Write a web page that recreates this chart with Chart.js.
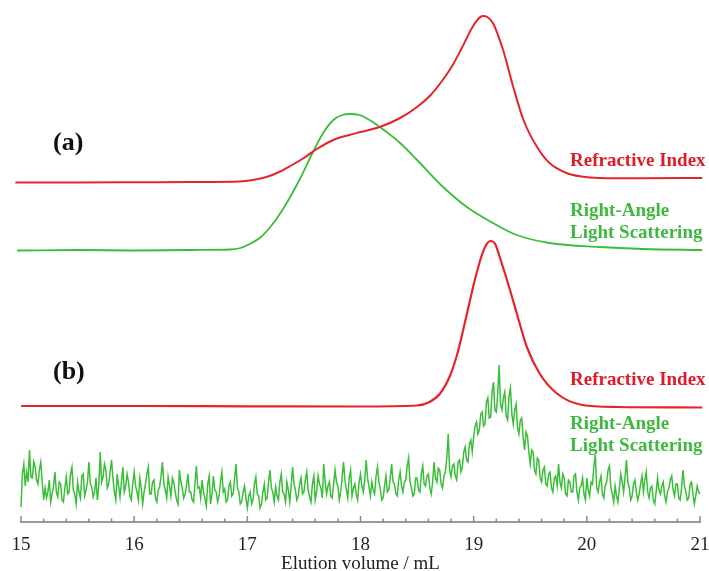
<!DOCTYPE html>
<html>
<head>
<meta charset="utf-8">
<script src="https://cdn.jsdelivr.net/npm/chart.js@4.4.1/dist/chart.umd.min.js"></script>
<style>
  html, body { margin: 0; padding: 0; background: #ffffff; }
  #c { display: block; }
</style>
</head>
<body>
<canvas id="c" width="709" height="571"></canvas>
<script>
// ---------------- DATA (signal heights above the axis, arbitrary units) ----------------
const xTickValues = [15, 16, 17, 18, 19, 20, 21];

// (a) Refractive Index
const riA_x = [14.95, 15.5, 16.0, 16.5, 16.93, 17.05, 17.17, 17.28, 17.38, 17.50, 17.60, 17.76, 17.90, 18.0, 18.17, 18.35, 18.50, 18.62, 18.72, 18.81, 18.90, 18.99, 19.04, 19.08, 19.12, 19.17, 19.26, 19.35, 19.44, 19.56, 19.67, 19.82, 19.95, 20.11, 20.5, 21.02];
const riA_y = [339.5, 339.5, 339.7, 340, 340.5, 342, 345, 350, 356, 364, 372, 382, 387, 390, 395, 404, 415, 427, 441, 456, 475, 495, 503, 506, 505, 499, 472, 435, 402, 375, 359, 349, 345.5, 344, 343.7, 344];

// (a) Right-Angle Light Scattering
const lsA_x = [14.965, 15.5, 16.0, 16.5, 16.85, 16.94, 17.03, 17.12, 17.21, 17.31, 17.46, 17.58, 17.67, 17.76, 17.84, 17.91, 17.99, 18.08, 18.17, 18.35, 18.50, 18.73, 18.94, 19.17, 19.38, 19.67, 20.11, 20.5, 21.02];
const lsA_y = [271.5, 272, 271.5, 272, 272.5, 274, 278.5, 285, 296, 312, 342, 370, 389, 402, 407, 408, 407, 402, 395, 379, 362, 335, 315, 299, 287, 279, 275, 273, 272];

// (b) Refractive Index
const riB_x = [15.0, 16.0, 17.0, 18.0, 18.50, 18.61, 18.70, 18.79, 18.85, 18.88, 18.95, 19.01, 19.07, 19.11, 19.15, 19.19, 19.23, 19.30, 19.38, 19.47, 19.58, 19.73, 19.96, 20.27, 21.02];
const riB_y = [116, 116, 115.7, 115.5, 116.5, 120, 128, 146, 166, 179, 213, 242, 266, 277, 281, 278, 265, 240, 209, 175, 149, 129, 117, 115, 114.5];

// (b) Right-Angle Light Scattering (noisy trace, one value every 0.0125 mL from 15.000)
const lsB_start = 15.0;
const lsB_step = 0.0125;
const lsB_y = [
  15, 48, 58, 36, 50, 40, 72, 45, 44, 60, 55, 42, 38, 52, 60, 40, 22, 34, 24, 30,
  42, 20, 28, 36, 50, 30, 25, 40, 38, 22, 20, 34, 45, 28, 30, 48, 55, 32, 28, 18,
  40, 30, 24, 46, 48, 26, 32, 40, 60, 38, 35, 25, 30, 44, 22, 36, 70, 40, 45, 58,
  52, 34, 38, 50, 62, 44, 30, 22, 48, 36, 25, 40, 55, 30, 36, 48, 40, 26, 22, 38,
  50, 36, 30, 22, 44, 34, 18, 30, 38, 48, 55, 28, 28, 40, 42, 24, 20, 32, 35, 46,
  60, 38, 32, 24, 45, 36, 26, 44, 40, 30, 22, 18, 52, 40, 34, 24, 28, 36, 48, 30,
  30, 22, 20, 38, 56, 34, 35, 24, 42, 30, 24, 16, 38, 46, 18, 28, 46, 32, 30, 20,
  26, 40, 50, 30, 33, 20, 22, 36, 40, 26, 28, 44, 58, 34, 30, 18, 20, 30, 36, 24,
  14, 26, 30, 18, 22, 38, 45, 28, 26, 14, 18, 30, 38, 22, 24, 40, 52, 34, 30, 20,
  35, 26, 22, 40, 48, 30, 28, 20, 40, 32, 20, 36, 55, 38, 32, 22, 26, 38, 44, 28,
  30, 42, 50, 32, 25, 20, 38, 46, 22, 30, 46, 38, 34, 24, 58, 40, 28, 36, 40, 26,
  24, 38, 52, 40, 36, 22, 30, 44, 60, 42, 32, 24, 44, 52, 26, 34, 38, 28, 22, 40,
  48, 36, 30, 42, 62, 44, 35, 26, 40, 32, 28, 46, 55, 40, 33, 22, 24, 36, 46, 30,
  32, 44, 58, 40, 38, 28, 26, 42, 50, 36, 30, 40, 42, 56, 64, 40, 34, 26, 28, 44,
  44, 32, 30, 48, 56, 38, 36, 46, 48, 34, 28, 40, 60, 44, 40, 54, 52, 38, 34, 46,
  50, 64, 88, 52, 45, 56, 58, 46, 42, 60, 62, 50, 55, 70, 75, 62, 60, 78, 82, 70,
  85, 96, 100, 88, 92, 108, 110, 96, 98, 120, 124, 104, 105, 130, 140, 112, 110, 128, 157, 118,
  112, 124, 130, 106, 102, 126, 134, 108, 98, 112, 118, 94, 88, 102, 104, 84, 72, 90, 86, 70,
  58, 72, 70, 52, 48, 64, 62, 44, 40, 52, 55, 38, 36, 48, 50, 34, 30, 44, 46, 36,
  58, 40, 34, 48, 44, 28, 26, 42, 40, 30, 30, 46, 48, 30, 22, 34, 36, 44, 28, 22,
  44, 32, 26, 40, 38, 56, 67, 34, 30, 40, 46, 28, 24, 36, 40, 52, 56, 34, 28, 20,
  36, 26, 20, 34, 48, 40, 30, 44, 62, 40, 34, 22, 26, 38, 42, 30, 22, 28, 38, 46,
  30, 42, 50, 30, 24, 34, 36, 22, 18, 30, 44, 32, 28, 36, 40, 26, 20, 30, 34, 42,
  46, 32, 26, 38, 38, 24, 22, 34, 52, 36, 30, 22, 24, 38, 40, 28, 18, 26, 36, 30,
  28
];

// ---------------- BUILD ----------------
const RED = 'rgb(228,36,44)';
const GREEN = 'rgb(58,190,58)';
const RED_TXT = 'rgb(222,28,40)';
const GREEN_TXT = 'rgb(64,184,64)';

function zip(xs, ys) { return xs.map((x, i) => ({ x: x, y: ys[i] })); }
const lsB_pts = lsB_y.map((v, i) => ({ x: +(lsB_start + i * lsB_step).toFixed(4), y: v }));

const SERIF = '"Liberation Serif", "Times New Roman", serif';
const annotations = [
  { text: '(a)', x: 53, y: 143, color: '#111', font: 'bold 26px ' + SERIF },
  { text: '(b)', x: 53, y: 372, color: '#111', font: 'bold 26px ' + SERIF },
  { text: 'Refractive Index', x: 570, y: 161, color: RED_TXT, font: 'bold 19px ' + SERIF },
  { text: 'Right-Angle', x: 570, y: 211, color: GREEN_TXT, font: 'bold 19px ' + SERIF },
  { text: 'Light Scattering', x: 570, y: 233, color: GREEN_TXT, font: 'bold 19px ' + SERIF },
  { text: 'Refractive Index', x: 570, y: 380, color: RED_TXT, font: 'bold 19px ' + SERIF },
  { text: 'Right-Angle', x: 570, y: 424, color: GREEN_TXT, font: 'bold 19px ' + SERIF },
  { text: 'Light Scattering', x: 570, y: 446, color: GREEN_TXT, font: 'bold 19px ' + SERIF }
];

const decorPlugin = {
  id: 'decor',
  afterDraw(chart) {
    const ctx = chart.ctx;
    const xs = chart.scales.x;
    const yb = chart.chartArea.bottom;
    ctx.save();
    // inward (upward) tick marks: major at each integer, minor every 0.2
    ctx.strokeStyle = '#8a8a8a';
    ctx.lineWidth = 1.5;
    for (let i = 0; i <= 30; i++) {
      const v = xs.min + i * 0.2;
      const px = xs.getPixelForValue(v);
      const len = (i % 5 === 0) ? 6 : 3.5;
      ctx.beginPath();
      ctx.moveTo(px, yb);
      ctx.lineTo(px, yb - len);
      ctx.stroke();
    }
    // text annotations
    ctx.textBaseline = 'middle';
    ctx.textAlign = 'left';
    annotations.forEach(a => {
      ctx.font = a.font;
      ctx.fillStyle = a.color;
      ctx.fillText(a.text, a.x, a.y);
    });
    ctx.restore();
  }
};

new Chart(document.getElementById('c'), {
  type: 'line',
  data: {
    datasets: [
      { label: 'RI (a)', data: zip(riA_x, riA_y), borderColor: RED, borderWidth: 2, pointRadius: 0, cubicInterpolationMode: 'monotone', clip: false },
      { label: 'LS (a)', data: zip(lsA_x, lsA_y), borderColor: GREEN, borderWidth: 1.8, pointRadius: 0, cubicInterpolationMode: 'monotone', clip: false },
      { label: 'RI (b)', data: zip(riB_x, riB_y), borderColor: RED, borderWidth: 2.2, pointRadius: 0, cubicInterpolationMode: 'monotone', clip: false },
      { label: 'LS (b)', data: lsB_pts, borderColor: GREEN, borderWidth: 1.5, pointRadius: 0, tension: 0, clip: false }
    ]
  },
  options: {
    responsive: false,
    animation: false,
    events: [],
    layout: { padding: { left: 21, right: 9, top: 0, bottom: 0 } },
    plugins: { legend: { display: false }, tooltip: { enabled: false } },
    scales: {
      x: {
        type: 'linear',
        min: 15,
        max: 21,
        grid: { display: false, drawTicks: false },
        border: { display: true, color: '#9a9a9a', width: 2 },
        afterBuildTicks(scale) { scale.ticks = xTickValues.map(v => ({ value: v })); },
        afterFit(scale) { scale.height = 49; scale.paddingLeft = 0; scale.paddingRight = 0; },
        ticks: {
          padding: 12,
          maxRotation: 0,
          color: '#222',
          font: { family: SERIF, size: 19 }
        },
        title: {
          display: true,
          text: 'Elution volume / mL',
          color: '#222',
          padding: 0,
          font: { family: SERIF, size: 19, lineHeight: 0.7 }
        }
      },
      y: {
        display: false,
        min: 0,
        max: 522
      }
    }
  },
  plugins: [decorPlugin]
});
</script>
</body>
</html>
